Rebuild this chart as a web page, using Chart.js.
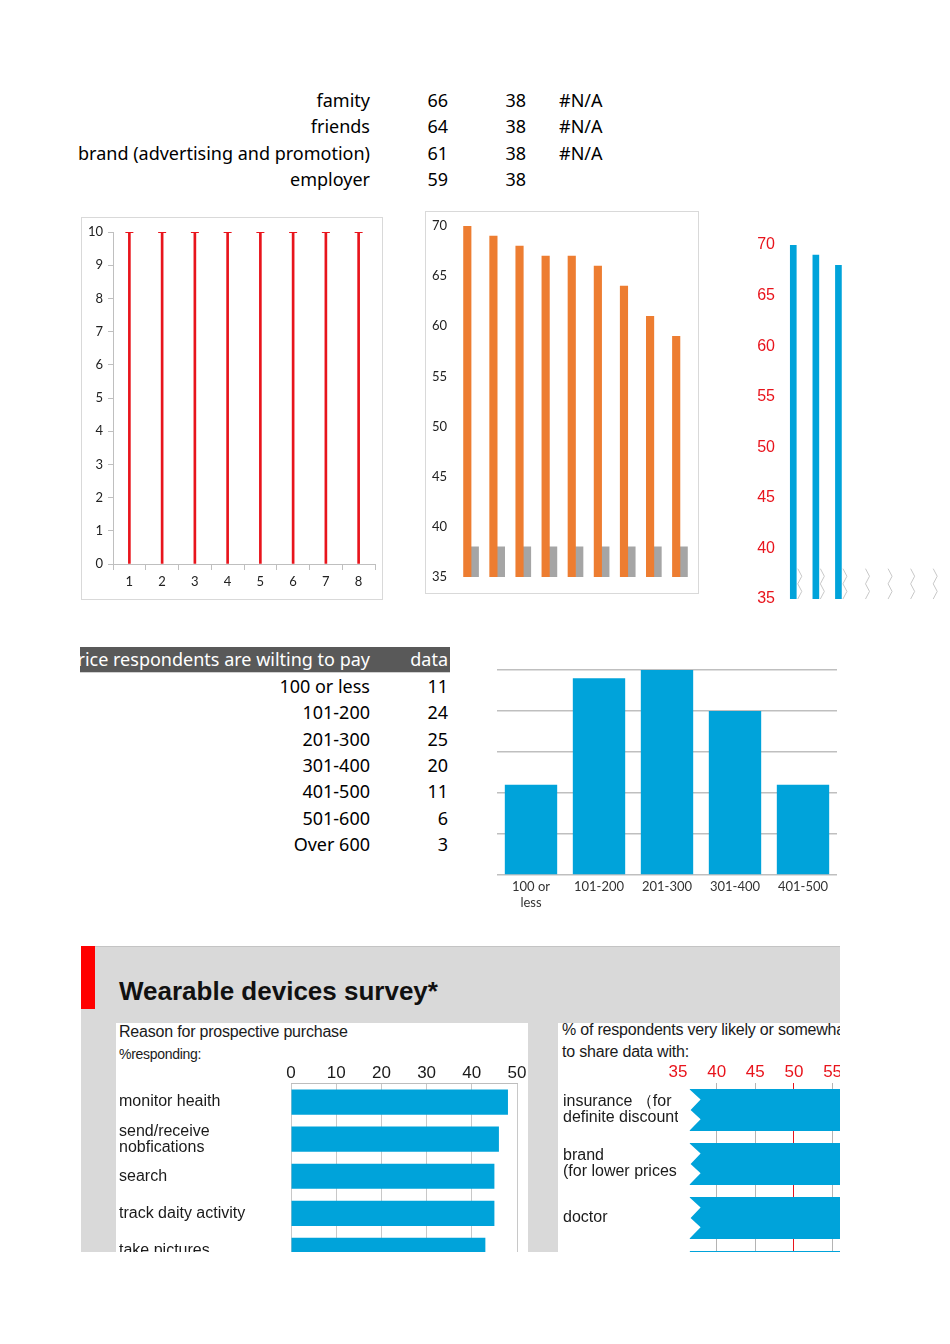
<!DOCTYPE html>
<html>
<head>
<meta charset="utf-8">
<script src="https://cdn.jsdelivr.net/npm/chart.js@4.4.1/dist/chart.umd.min.js"></script>
<style>
  html, body { margin: 0; padding: 0; background: #fff; }
  body { position: relative; width: 950px; height: 1344px; overflow: hidden; font-family: 'Noto Sans', sans-serif; color: #000; }
  .cell { position: absolute; white-space: nowrap; font-size: 18px; line-height: 26px; height: 26px; }
  .box { position: absolute; border: 1px solid #d9d9d9; box-sizing: border-box; }
  canvas { position: absolute; }
  #survey { position: absolute; left: 81px; top: 946px; width: 759px; height: 306px; overflow: hidden; background: #d9d9d9; box-shadow: inset 0 1px 0 #c4c4c4; font-family: 'Liberation Sans', Arial, sans-serif; color: #1a1a1a; }
  #survey .txt { position: absolute; white-space: nowrap; }
</style>
</head>
<body>
<div class="box" style="left:81px;top:217px;width:302px;height:383px;"></div>
<canvas id="capChart" width="299" height="380" style="left:82px;top:218px;"></canvas>
<div class="box" style="left:425px;top:211px;width:274px;height:383px;"></div>
<canvas id="shareChart" width="271" height="380" style="left:426px;top:212px;"></canvas>
<canvas id="breakChart" width="210" height="380" style="left:740px;top:230px;"></canvas>
<canvas id="priceChart" width="345" height="260" style="left:497px;top:660px;"></canvas>

<div id="survey">
  <div style="position:absolute;left:0;top:0;width:14px;height:63px;background:#ff0000;"></div>
  <div class="txt" style="left:38px;top:30px;font-size:26px;line-height:30px;font-weight:bold;color:#111;">Wearable devices survey*</div>
  <div style="position:absolute;left:35px;top:77px;width:412px;height:240px;background:#fff;"></div>
  <div style="position:absolute;left:477px;top:77px;width:300px;height:240px;background:#fff;"></div>
  <div class="txt" style="left:38px;top:76px;font-size:16px;line-height:20px;letter-spacing:-0.2px;">Reason for prospective purchase</div>
  <div class="txt" style="left:38px;top:99px;font-size:14px;line-height:18px;letter-spacing:-0.3px;">%responding:</div>
  <div class="txt" style="left:481px;top:74px;font-size:16px;line-height:20px;letter-spacing:-0.2px;">% of respondents very likely or somewhat likely</div>
  <div class="txt" style="left:481px;top:96px;font-size:16px;line-height:20px;letter-spacing:-0.2px;">to share data with:</div>
  <canvas id="reasonChart" width="412" height="220" style="left:35px;top:114px;"></canvas>
  <canvas id="shareWithChart" width="400" height="258" style="left:477px;top:114px;"></canvas>
</div>

<script>
// top table
const topLabels = ['famity', 'friends', 'brand (advertising and promotion)', 'employer'];
const topLikely = [66, 64, 61, 59];
const topBase = [38, 38, 38, 38];
const topNA = ['#N/A', '#N/A', '#N/A', ''];

// left chart: 8 markers at 10
const capCategories = ['1', '2', '3', '4', '5', '6', '7', '8'];
const capValues = [10, 10, 10, 10, 10, 10, 10, 10];

// middle chart
const shareCategories = ['1', '2', '3', '4', '5', '6', '7', '8', '9'];
const shareValues = [70, 69, 68, 67, 67, 66, 64, 61, 59];
const shareBreaks = [38, 38, 38, 38, 38, 38, 38, 38, 38];

// right chart with break marks
const breakCategories = ['1', '2', '3', '4', '5', '6', '7'];
const breakValues = [70, 69, 68, null, null, null, null];
const breakMarks = [38, 38, 38, 38, 38, 38, 38];

// price table / column chart
const priceHeader = 'Price respondents are wilting to pay';
const priceRanges = ['100 or less', '101-200', '201-300', '301-400', '401-500', '501-600', 'Over 600'];
const priceCounts = [11, 24, 25, 20, 11, 6, 3];

// survey panel
const reasonLabels = ['monitor heaith', ['send/receive', 'nobfications'], 'search', 'track daity activity', 'take pictures'];
const reasonValues = [48, 46, 45, 45, 43];
const shareWithLabels = [['insurance （for', 'definite discount'], ['brand', '(for lower prices'], 'doctor', ''];
const shareWithValues = [70, 69, 68, 67];

function cell(text, left, width, center, align, style) {
    const d = document.createElement('div');
    d.className = 'cell';
    d.textContent = text;
    d.style.left = left + 'px';
    d.style.width = width + 'px';
    d.style.top = (center - 13) + 'px';
    d.style.textAlign = align;
    if (style) Object.assign(d.style, style);
    document.body.appendChild(d);
    return d;
}

topLabels.forEach((l, i) => {
    const y = 100 + i * 26.4;
    cell(l, 0, 370, y, 'right');
    cell(String(topLikely[i]), 400, 48, y, 'right');
    cell(String(topBase[i]), 478, 48, y, 'right');
    cell(topNA[i], 559, 80, y, 'left');
});

// price table
const hdr = document.createElement('div');
hdr.style.cssText = 'position:absolute;left:80px;top:647px;width:370px;height:25px;background:#595959;overflow:hidden;border-bottom:1px solid #d0d0d0;';
document.body.appendChild(hdr);
const hdrText = document.createElement('div');
hdrText.className = 'cell';
hdrText.style.cssText += 'right:80px;top:0;line-height:25px;color:#fff;';
hdrText.textContent = priceHeader;
hdr.appendChild(hdrText);
const hdrData = document.createElement('div');
hdrData.className = 'cell';
hdrData.style.cssText += 'right:2px;top:0;line-height:25px;color:#fff;';
hdrData.textContent = 'data';
hdr.appendChild(hdrData);
priceRanges.forEach((r, i) => {
    const y = 686 + i * 26.3;
    cell(r, 0, 370, y, 'right');
    cell(String(priceCounts[i]), 400, 48, y, 'right');
});

Chart.defaults.font.family = 'Lato';
Chart.defaults.font.size = 13;
Chart.defaults.color = '#333';
Chart.defaults.animation = false;
Chart.defaults.plugins.legend.display = false;
Chart.defaults.plugins.tooltip.enabled = false;

const red = '#e8141c';
const blue = '#00a3da';

new Chart(document.getElementById('capChart'), {
    type: 'bar',
    data: {
        labels: capCategories,
        datasets: [
            { data: capValues, backgroundColor: red, barThickness: 2 },
            { type: 'line', data: capValues, showLine: false, pointStyle: 'line', pointRadius: 4, pointBorderWidth: 2, pointBorderColor: red }
        ]
    },
    options: {
        responsive: false,
        layout: { padding: { top: 14, right: 5 } },
        scales: {
            x: {
                grid: { drawOnChartArea: false, offset: true, tickLength: 6, color: '#bfbfbf' },
                border: { color: '#bfbfbf' },
                ticks: { padding: 4, color: '#222' },
                afterFit: s => { s.height = 34; }
            },
            y: {
                min: 0, max: 10,
                grid: { drawOnChartArea: false, tickLength: 5, color: '#bfbfbf' },
                border: { color: '#bfbfbf' },
                ticks: { stepSize: 1, padding: 5, color: '#222' },
                afterFit: s => { s.width = 31; }
            }
        }
    }
});

new Chart(document.getElementById('shareChart'), {
    type: 'bar',
    data: {
        labels: shareCategories,
        datasets: [
            { data: shareValues, backgroundColor: '#ed7d31', barThickness: 7.5 },
            { data: shareBreaks, backgroundColor: '#a5a5a5', barThickness: 7.5 }
        ]
    },
    options: {
        responsive: false,
        layout: { padding: { top: 14, right: 4, bottom: 15 } },
        scales: {
            x: { display: false },
            y: {
                min: 35, max: 70,
                grid: { display: false, drawTicks: true, tickLength: 11 },
                border: { display: false },
                ticks: { stepSize: 5, padding: 0, color: '#222' },
                afterFit: s => { s.width = 32; }
            }
        }
    }
});

// zigzag break marks drawn where the transparent second series sits
const zigzagPlugin = {
    id: 'zigzag',
    afterDatasetsDraw(chart) {
        const meta = chart.getDatasetMeta(1);
        const yScale = chart.scales.y;
        const area = chart.chartArea;
        const ctx = chart.ctx;
        ctx.save();
        ctx.beginPath();
        ctx.rect(area.left, area.top, area.right - area.left, area.bottom - area.top);
        ctx.clip();
        ctx.strokeStyle = '#c8c8c8';
        ctx.lineWidth = 1;
        ctx.lineJoin = 'round';
        meta.data.forEach((el, i) => {
            const top = yScale.getPixelForValue(breakMarks[i]);
            const bottom = yScale.getPixelForValue(yScale.min);
            const h = bottom - top;
            const x0 = el.x - 1.5, x1 = el.x + 2.5;
            ctx.beginPath();
            ctx.moveTo(x0, top);
            ctx.lineTo(x1, top + h * 0.25);
            ctx.lineTo(x0, top + h * 0.5);
            ctx.lineTo(x1, top + h * 0.75);
            ctx.lineTo(x0, bottom);
            ctx.stroke();
        });
        ctx.restore();
    }
};

new Chart(document.getElementById('breakChart'), {
    type: 'bar',
    data: {
        labels: breakCategories,
        datasets: [
            { data: breakValues, backgroundColor: blue, barThickness: 6 },
            { data: breakMarks, backgroundColor: 'rgba(0,0,0,0)', barThickness: 6 }
        ]
    },
    options: {
        responsive: false,
        layout: { padding: { top: 15, right: 7, bottom: 11 } },
        scales: {
            x: { display: false },
            y: {
                min: 35, max: 70,
                grid: { display: false, drawTicks: true, tickLength: 10 },
                border: { display: false },
                ticks: { stepSize: 5, padding: 0, color: red, font: { family: 'Liberation Sans', size: 16 } },
                afterFit: s => { s.width = 45; }
            }
        }
    },
    plugins: [zigzagPlugin]
});

new Chart(document.getElementById('priceChart'), {
    type: 'bar',
    data: {
        labels: priceRanges.slice(0, 5).map(l => l === '100 or less' ? ['100 or', 'less'] : l),
        datasets: [
            { data: priceCounts.slice(0, 5), backgroundColor: blue, categoryPercentage: 1, barPercentage: 0.77 }
        ]
    },
    options: {
        responsive: false,
        layout: { padding: { top: 10, right: 5 } },
        scales: {
            x: {
                grid: { display: false, drawTicks: false },
                border: { display: false },
                ticks: { padding: 4, color: '#333', font: { size: 13, lineHeight: 1.23 } },
                afterFit: s => { s.height = 45; }
            },
            y: {
                min: 0, max: 25,
                grid: { color: '#bfbfbf', lineWidth: 1.5, drawTicks: false },
                border: { display: false },
                ticks: { display: false, stepSize: 5 },
                afterFit: s => { s.width = 0; }
            }
        }
    }
});

const arialFont = { family: 'Liberation Sans', size: 16, lineHeight: 1.0 };

new Chart(document.getElementById('reasonChart'), {
    type: 'bar',
    data: {
        labels: reasonLabels,
        datasets: [
            { data: reasonValues, backgroundColor: blue, categoryPercentage: 1, barPercentage: 0.68 }
        ]
    },
    options: {
        responsive: false,
        indexAxis: 'y',
        layout: { padding: { left: 3, right: 11 } },
        scales: {
            x: {
                position: 'top',
                min: 0, max: 50,
                grid: { color: '#c8c8c8', drawTicks: false },
                border: { color: '#bdbdbd' },
                ticks: { stepSize: 10, padding: 0, color: '#1a1a1a', font: { family: 'Liberation Sans', size: 17 } },
                afterFit: s => { s.height = 23.5; }
            },
            y: {
                grid: { display: false },
                border: { display: false },
                ticks: { autoSkip: false, crossAlign: 'far', color: '#1a1a1a', font: arialFont },
                afterFit: s => { s.width = 172; }
            }
        }
    }
});

// break notch cut into the left end of each bar
const notchPlugin = {
    id: 'notch',
    afterDatasetsDraw(chart) {
        const ctx = chart.ctx;
        ctx.save();
        ctx.fillStyle = '#fff';
        chart.getDatasetMeta(0).data.forEach(el => {
            const b = el.base, top = el.y - el.height / 2, h = el.height;
            ctx.beginPath();
            ctx.moveTo(b - 1, top - 0.5);
            ctx.lineTo(b + 11, top + h * 0.25);
            ctx.lineTo(b + 1, top + h * 0.5);
            ctx.lineTo(b + 11, top + h * 0.72);
            ctx.lineTo(b - 1, top + h + 0.5);
            ctx.closePath();
            ctx.fill();
        });
        ctx.restore();
    }
};

new Chart(document.getElementById('shareWithChart'), {
    type: 'bar',
    data: {
        labels: shareWithLabels,
        datasets: [
            { data: shareWithValues, backgroundColor: blue, base: 36.5, categoryPercentage: 1, barPercentage: 0.78 }
        ]
    },
    options: {
        responsive: false,
        indexAxis: 'y',
        layout: { padding: { left: 5, right: 8 } },
        scales: {
            x: {
                position: 'top',
                min: 35, max: 70,
                grid: {
                    drawTicks: false,
                    color: c => c.tick.value === 50 ? red : (c.tick.value === 35 ? 'rgba(0,0,0,0)' : '#b4b4b4')
                },
                border: { display: false },
                ticks: { stepSize: 5, padding: 0, color: red, font: { family: 'Liberation Sans', size: 17 } },
                afterFit: s => { s.height = 23; }
            },
            y: {
                grid: { display: false },
                border: { display: false },
                ticks: { autoSkip: false, crossAlign: 'far', color: '#1a1a1a', font: arialFont },
                afterFit: s => { s.width = 115; }
            }
        }
    },
    plugins: [notchPlugin]
});
</script>
</body>
</html>
